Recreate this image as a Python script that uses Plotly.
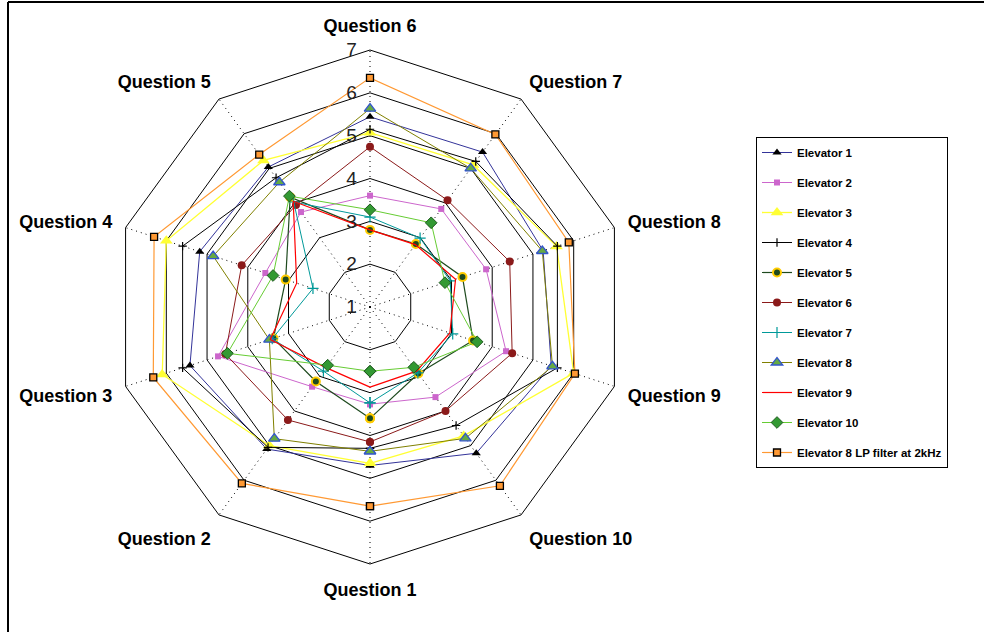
import plotly.graph_objects as go

# Questionnaire categories (clockwise, Question 1 at the bottom)
questions = ["Question 1", "Question 2", "Question 3", "Question 4", "Question 5",
             "Question 6", "Question 7", "Question 8", "Question 9", "Question 10"]

# Mean ratings per elevator, ordered Question 1 .. Question 10
elevator_1 = [4.70, 5.10, 5.42, 5.18, 5.04, 5.44, 5.47, 5.25, 5.45, 5.22]
elevator_2 = [3.27, 3.30, 4.73, 3.57, 3.74, 3.60, 3.83, 3.85, 4.34, 3.60]
elevator_3 = [4.65, 5.00, 6.10, 6.00, 5.23, 5.07, 5.10, 5.58, 6.00, 4.72]
elevator_4 = [4.30, 5.05, 5.60, 5.60, 4.73, 5.15, 5.20, 5.60, 5.60, 4.42]
elevator_5 = [3.60, 3.15, 3.37, 3.07, 4.17, 2.80, 2.82, 3.27, 3.53, 2.92]
elevator_6 = [4.15, 4.26, 4.55, 4.15, 3.94, 4.74, 4.08, 4.43, 4.49, 4.00]
elevator_7 = [3.24, 2.85, 3.40, 2.40, 4.03, 3.10, 2.99, 2.97, 3.03, 2.90]
elevator_8 = [4.37, 4.80, 3.47, 4.85, 4.60, 5.63, 5.00, 5.23, 5.48, 4.79]
elevator_9 = [2.87, 2.75, 3.45, 2.80, 4.05, 2.80, 2.80, 3.10, 2.96, 2.85]
elevator_10 = [2.50, 2.68, 4.50, 3.38, 4.20, 3.27, 3.43, 2.84, 3.63, 2.74]
elevator_8_lp = [5.65, 6.09, 6.32, 6.30, 5.40, 6.35, 5.98, 5.88, 6.03, 6.16]

radial_ticks = [1, 2, 3, 4, 5, 6, 7]

series = [
    ("Elevator 1", elevator_1, dict(color="#333399", width=1),
     dict(symbol="triangle-up", size=8, color="#000000")),
    ("Elevator 2", elevator_2, dict(color="#CC66CC", width=1),
     dict(symbol="square", size=6, color="#CC66CC")),
    ("Elevator 3", elevator_3, dict(color="#FFFF33", width=1.3),
     dict(symbol="triangle-up", size=11, color="#FFFF33")),
    ("Elevator 4", elevator_4, dict(color="#000000", width=1),
     dict(symbol="cross-thin-open", size=6, color="#000000", line=dict(width=1.2, color="#000000"))),
    ("Elevator 5", elevator_5, dict(color="#1E4A1E", width=1.2),
     dict(symbol="circle", size=8, color="#1E4A1E", line=dict(width=2, color="#FFCC00"))),
    ("Elevator 6", elevator_6, dict(color="#8B1A1A", width=1),
     dict(symbol="circle", size=8, color="#8B1A1A")),
    ("Elevator 7", elevator_7, dict(color="#009999", width=1),
     dict(symbol="cross-thin-open", size=8, color="#009999", line=dict(width=1.2, color="#009999"))),
    ("Elevator 8", elevator_8, dict(color="#808000", width=1),
     dict(symbol="triangle-up", size=10, color="#66AA44", line=dict(width=1.3, color="#3355CC"))),
    ("Elevator 9", elevator_9, dict(color="#FF0000", width=1.2), None),
    ("Elevator 10", elevator_10, dict(color="#66CC33", width=1),
     dict(symbol="diamond", size=9, color="#339933", line=dict(width=1, color="#1E5A1E"))),
    ("Elevator 8 LP filter at 2kHz", elevator_8_lp, dict(color="#FF9933", width=1.2),
     dict(symbol="square", size=7, color="#FF9933", line=dict(width=1.3, color="#000000"))),
]

fig = go.Figure()
for i, (name, values, line, marker) in enumerate(series):
    closed_r = values + values[:1]
    closed_t = questions + questions[:1]
    kwargs = dict(r=closed_r, theta=closed_t, name=name, line=line,
                  legendgroup=f"g{i}", hoverinfo="name+r+theta")
    if marker is None:
        kwargs["mode"] = "lines"
    else:
        kwargs["mode"] = "lines+markers"
        kwargs["marker"] = marker
    fig.add_trace(go.Scatterpolar(**kwargs))

W, H = 984, 632
cx, cy, R = 370, 307, 257

fig.update_layout(
    width=W, height=H,
    margin=dict(l=0, r=0, t=0, b=0),
    paper_bgcolor="white",
    plot_bgcolor="white",
    font=dict(family="Liberation Sans, Arial, sans-serif", color="#000000"),
    polar=dict(
        domain=dict(x=[(cx - R) / W, (cx + R) / W],
                    y=[(H - cy - R) / H, (H - cy + R) / H]),
        bgcolor="white",
        gridshape="linear",
        angularaxis=dict(
            type="category",
            categoryarray=questions,
            rotation=270,
            direction="clockwise",
            showline=True, linecolor="#000000", linewidth=1,
            showgrid=True, gridcolor="#000000", griddash="1px,4px", gridwidth=1,
            ticks="outside", ticklen=10, tickcolor="rgba(0,0,0,0)",
            tickfont=dict(size=18, weight="bold", color="#000000"),
        ),
        radialaxis=dict(
            range=[1, 7],
            tickvals=radial_ticks,
            angle=90,
            tickangle=90,
            side="counterclockwise",
            showline=False,
            showgrid=True, gridcolor="#000000", gridwidth=1,
            ticks="outside", ticklen=6, tickcolor="rgba(0,0,0,0)",
            tickfont=dict(size=19, color="#222222"),
        ),
    ),
    showlegend=True,
    legend=dict(
        x=756 / W, y=1 - 137 / H, xanchor="left", yanchor="top",
        bgcolor="white", bordercolor="#000000", borderwidth=1,
        font=dict(size=11.5, weight="bold", color="#000000"),
        tracegroupgap=11,
        itemclick=False,
    ),
    shapes=[
        dict(type="line", xref="paper", yref="paper", x0=8 / W, x1=1, y0=1 - 2 / H, y1=1 - 2 / H,
             line=dict(color="#000000", width=2)),
        dict(type="line", xref="paper", yref="paper", x0=8 / W, x1=8 / W, y0=0, y1=1 - 2 / H,
             line=dict(color="#000000", width=2)),
    ],
)

fig.write_html("out.html")
